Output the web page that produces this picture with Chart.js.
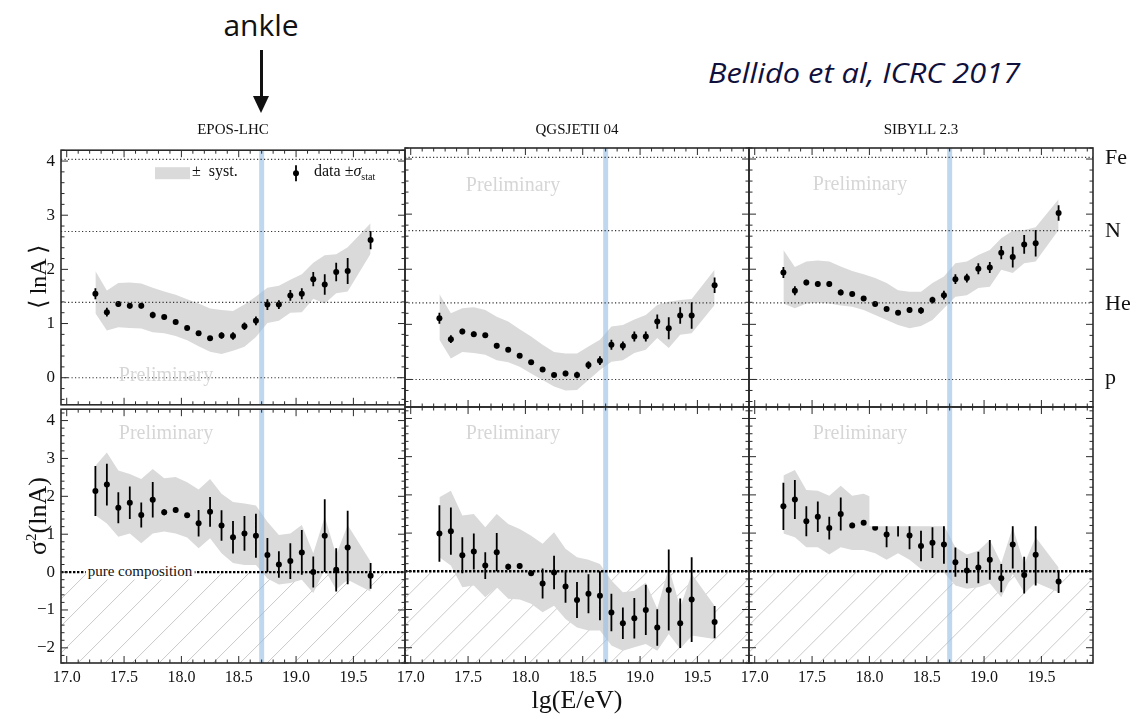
<!DOCTYPE html>
<html>
<head>
<meta charset="utf-8">
<script src="https://cdn.jsdelivr.net/npm/chart.js@4.4.1/dist/chart.umd.min.js"></script>
<style>
    html, body { margin: 0; padding: 0; background: #fff; }
    #stage { position: relative; width: 1137px; height: 719px; overflow: hidden; font-family: "Liberation Serif", serif; color: #111; }
    #stage canvas { position: absolute; }
    .abs { position: absolute; white-space: nowrap; line-height: 1; }
</style>
</head>
<body>
<div id="stage"></div>
<script>
// bin centres of lg(E/eV)
const ENERGY = [17.25, 17.35, 17.45, 17.55, 17.65, 17.75, 17.85, 17.95, 18.05, 18.15, 18.25, 18.35,
    18.45, 18.55, 18.65, 18.75, 18.85, 18.95, 19.05, 19.15, 19.25, 19.35, 19.45, 19.65];
const X_TICKS = [17.0, 17.5, 18.0, 18.5, 19.0, 19.5];
const LNA_TICKS = [0, 1, 2, 3, 4];
const VAR_TICKS = [-2, -1, 0, 1, 2, 3, 4];
const MODELS = ['EPOS-LHC', 'QGSJETII 04', 'SIBYLL 2.3'];
const ELEMENTS = ['p', 'He', 'N', 'Fe'];
const ELEMENT_LNA = [0, 1.39, 2.7, 4.03];
const ANKLE = 18.7;

// <lnA>
const EPOS_LNA = [1.55, 1.21, 1.36, 1.33, 1.33, 1.16, 1.12, 1.03, 0.92, 0.82, 0.73, 0.78, 0.77, 0.95, 1.05, 1.35, 1.35, 1.52, 1.55, 1.82, 1.72, 1.95, 1.97, 2.54];
const EPOS_LNA_STAT = [0.10, 0.08, 0.05, 0.05, 0.05, 0.06, 0.04, 0.03, 0.03, 0.04, 0.04, 0.06, 0.07, 0.07, 0.08, 0.10, 0.08, 0.10, 0.10, 0.13, 0.19, 0.17, 0.24, 0.17];
const EPOS_LNA_SYS_HI = [1.97, 1.61, 1.75, 1.76, 1.74, 1.66, 1.59, 1.53, 1.45, 1.37, 1.28, 1.25, 1.23, 1.35, 1.50, 1.66, 1.70, 1.81, 1.91, 2.12, 2.26, 2.28, 2.41, 2.85];
const EPOS_LNA_SYS_LO = [1.19, 0.87, 0.93, 0.92, 0.91, 0.84, 0.82, 0.77, 0.69, 0.58, 0.48, 0.44, 0.50, 0.57, 0.75, 1.01, 1.05, 1.20, 1.21, 1.46, 1.37, 1.56, 1.59, 2.29];

const QGS_LNA = [1.11, 0.73, 0.87, 0.82, 0.80, 0.61, 0.54, 0.43, 0.31, 0.18, 0.08, 0.11, 0.08, 0.26, 0.34, 0.63, 0.61, 0.78, 0.78, 1.05, 0.93, 1.16, 1.16, 1.71];
const QGS_LNA_STAT = [0.10, 0.07, 0.05, 0.05, 0.04, 0.05, 0.03, 0.03, 0.03, 0.04, 0.04, 0.05, 0.06, 0.07, 0.08, 0.09, 0.08, 0.09, 0.09, 0.13, 0.20, 0.15, 0.24, 0.14];
const QGS_LNA_SYS_HI = [1.55, 1.20, 1.29, 1.31, 1.26, 1.14, 1.05, 0.91, 0.78, 0.63, 0.50, 0.47, 0.47, 0.60, 0.72, 0.96, 0.99, 1.09, 1.17, 1.35, 1.41, 1.44, 1.46, 1.99];
const QGS_LNA_SYS_LO = [0.72, 0.38, 0.50, 0.48, 0.45, 0.35, 0.31, 0.23, 0.11, -0.01, -0.13, -0.20, -0.19, -0.01, 0.17, 0.32, 0.35, 0.48, 0.54, 0.75, 0.57, 0.81, 0.84, 1.35];

const SIB_LNA = [1.94, 1.61, 1.76, 1.73, 1.73, 1.58, 1.55, 1.47, 1.37, 1.28, 1.21, 1.26, 1.25, 1.44, 1.53, 1.82, 1.84, 2.01, 2.03, 2.30, 2.22, 2.45, 2.47, 3.02];
const SIB_LNA_STAT = [0.10, 0.08, 0.05, 0.05, 0.05, 0.05, 0.03, 0.03, 0.03, 0.04, 0.04, 0.05, 0.06, 0.06, 0.08, 0.09, 0.08, 0.10, 0.10, 0.12, 0.19, 0.17, 0.24, 0.14];
const SIB_LNA_SYS_HI = [2.35, 2.04, 2.14, 2.16, 2.14, 2.05, 1.97, 1.91, 1.84, 1.75, 1.62, 1.59, 1.59, 1.75, 1.87, 2.11, 2.14, 2.26, 2.35, 2.56, 2.70, 2.71, 2.76, 3.27];
const SIB_LNA_SYS_LO = [1.38, 1.29, 1.38, 1.39, 1.38, 1.34, 1.32, 1.26, 1.17, 1.08, 0.99, 0.93, 0.97, 1.08, 1.29, 1.50, 1.53, 1.66, 1.68, 1.99, 1.93, 2.11, 2.14, 2.71];

// sigma^2(lnA)
const EPOS_VAR = [2.14, 2.31, 1.70, 1.83, 1.51, 1.91, 1.58, 1.64, 1.50, 1.29, 1.59, 1.23, 0.92, 1.02, 0.96, 0.45, 0.20, 0.29, 0.52, 0.00, 0.96, 0.06, 0.65, -0.10];
const EPOS_VAR_STAT = [0.66, 0.55, 0.41, 0.43, 0.33, 0.47, 0.08, 0.07, 0.04, 0.35, 0.39, 0.40, 0.43, 0.46, 0.58, 0.45, 0.35, 0.47, 0.59, 0.41, 0.96, 0.57, 0.97, 0.34];
const EPOS_VAR_SYS_HI = [2.81, 3.16, 2.68, 2.59, 2.46, 2.72, 2.48, 2.51, 2.37, 2.18, 2.46, 2.07, 1.85, 1.81, 1.76, 1.33, 0.98, 1.02, 1.24, 0.50, 1.46, 0.46, 1.24, 0.28];
const EPOS_VAR_SYS_LO = [1.50, 1.28, 0.93, 1.02, 0.76, 1.02, 1.07, 1.02, 0.91, 0.63, 0.89, 0.50, 0.24, 0.19, 0.19, -0.17, -0.33, -0.29, -0.20, -0.55, 0.06, -0.46, -0.20, -0.51];

const QGS_VAR = [0.99, 1.05, 0.42, 0.52, 0.15, 0.50, 0.12, 0.14, -0.05, -0.32, -0.03, -0.40, -0.75, -0.59, -0.64, -1.08, -1.36, -1.23, -1.01, -1.47, -0.49, -1.36, -0.74, -1.33];
const QGS_VAR_STAT = [0.74, 0.62, 0.47, 0.47, 0.35, 0.50, 0.08, 0.07, 0.04, 0.39, 0.44, 0.42, 0.47, 0.51, 0.64, 0.49, 0.41, 0.53, 0.66, 0.48, 1.06, 0.65, 1.11, 0.42];
const QGS_VAR_SYS_HI = [1.94, 2.11, 1.46, 1.50, 1.15, 1.50, 1.24, 1.11, 0.93, 0.72, 1.02, 0.59, 0.37, 0.30, 0.19, -0.24, -0.55, -0.51, -0.29, -0.98, 0.10, -0.94, -0.07, -0.90];
const QGS_VAR_SYS_LO = [0.37, 0.15, -0.42, -0.37, -0.68, -0.42, -0.72, -0.74, -0.85, -1.07, -0.90, -1.25, -1.47, -1.55, -1.55, -1.94, -2.08, -1.99, -1.90, -2.08, -1.64, -2.03, -1.68, -1.77];

const SIB_VAR = [1.70, 1.88, 1.31, 1.43, 1.13, 1.50, 1.20, 1.27, 1.14, 0.96, 1.35, 0.94, 0.66, 0.75, 0.70, 0.24, 0.02, 0.10, 0.30, -0.18, 0.70, -0.10, 0.43, -0.27];
const SIB_VAR_STAT = [0.62, 0.51, 0.39, 0.40, 0.30, 0.43, 0.07, 0.06, 0.03, 0.33, 0.44, 0.36, 0.40, 0.40, 0.50, 0.38, 0.33, 0.41, 0.52, 0.37, 0.63, 0.48, 0.80, 0.30];
const SIB_VAR_SYS_HI = [2.51, 2.65, 2.13, 2.11, 1.98, 2.24, 1.98, 2.03, 1.90, 1.70, 1.95, 1.65, 1.45, 1.40, 1.20, 0.63, 0.44, 0.54, 0.82, 0.21, 1.15, 0.19, 0.89, 0.10];
const SIB_VAR_SYS_LO = [0.99, 0.89, 0.63, 0.63, 0.44, 0.63, 0.56, 0.56, 0.47, 0.30, 0.47, 0.30, 0.06, -0.03, -0.03, -0.37, -0.46, -0.42, -0.31, -0.68, -0.07, -0.55, -0.29, -0.55];

// blanked-out box in the SIBYLL sigma^2 panel of the original (x0, x1, y0, y1)
const SIB_VAR_BLANK = [18.0, 19.9, 1.18, 3.2];

const stage = document.getElementById('stage');

const COL_X = [61, 405, 749];
const PANEL_W = 344;
const ROW_TOP = [148, 407];
const ROW_H = [259, 256];
const ROW_RANGE = [[-0.5, 4.2], [-2.4, 4.3]];
const PAD = 14;
const Y_AXIS_W = 50;
const X_AXIS_H = 32;
const SERIF = '"Liberation Serif", "Times New Roman", serif';

const addText = (html, x, y, css, align = 'center', rotate = 0) => {
    const el = document.createElement('div');
    el.className = 'abs';
    el.innerHTML = html;
    el.style.cssText += css;
    el.style.left = x + 'px';
    el.style.top = y + 'px';
    const tx = align === 'center' ? '-50%' : align === 'right' ? '-100%' : '0';
    el.style.transform = `translate(${tx}, -50%)` + (rotate ? ` rotate(${rotate}deg)` : '');
    stage.appendChild(el);
    return el;
};

const panelArt = {
    id: 'panelArt',
    beforeDatasetsDraw(chart, args, opts) {
        if (!opts.hatch) return;
        const { ctx, chartArea: a, scales: { y } } = chart;
        const y0 = y.getPixelForValue(0);
        const h = a.bottom - y0;
        ctx.save();
        ctx.beginPath();
        ctx.rect(a.left, y0, a.right - a.left, h);
        ctx.clip();
        ctx.strokeStyle = '#c9c9c9';
        ctx.lineWidth = 1;
        ctx.beginPath();
        for (let k = a.left - h; k < a.right; k += 27) {
            ctx.moveTo(k, a.bottom);
            ctx.lineTo(k + h, y0);
        }
        ctx.stroke();
        ctx.restore();
    },
    afterDatasetsDraw(chart, args, opts) {
        const { ctx, chartArea: a, scales: { x, y } } = chart;
        ctx.save();
        ctx.beginPath();
        ctx.rect(a.left, a.top, a.right - a.left, a.bottom - a.top);
        ctx.clip();

        // statistical error bars
        const pts = chart.data.datasets[2].data;
        ctx.strokeStyle = '#000';
        ctx.lineWidth = 1.8;
        ctx.beginPath();
        pts.forEach((p, i) => {
            const px = x.getPixelForValue(p.x);
            ctx.moveTo(px, y.getPixelForValue(p.y + opts.stat[i]));
            ctx.lineTo(px, y.getPixelForValue(p.y - opts.stat[i]));
        });
        ctx.stroke();

        if (opts.blank) {
            const [x0, x1, y0, y1] = opts.blank;
            ctx.fillStyle = '#fff';
            ctx.fillRect(x.getPixelForValue(x0), y.getPixelForValue(y1),
                x.getPixelForValue(x1) - x.getPixelForValue(x0), y.getPixelForValue(y0) - y.getPixelForValue(y1));
        }

        // ankle
        const ax = x.getPixelForValue(ANKLE);
        ctx.strokeStyle = 'rgba(150, 190, 228, 0.6)';
        ctx.lineWidth = 5;
        ctx.beginPath();
        ctx.moveTo(ax, a.top);
        ctx.lineTo(ax, a.bottom);
        ctx.stroke();

        // reference lines
        if (opts.hatch) {
            ctx.strokeStyle = '#000';
            ctx.lineWidth = 2.4;
            ctx.setLineDash([2.4, 1.6]);
            const y0 = y.getPixelForValue(0);
            ctx.beginPath();
            ctx.moveTo(a.left, y0);
            ctx.lineTo(a.right, y0);
            ctx.stroke();
        } else {
            ctx.strokeStyle = '#333';
            ctx.lineWidth = 1.1;
            ctx.setLineDash([1.2, 2.3]);
            ctx.beginPath();
            ELEMENT_LNA.forEach((v) => {
                const py = y.getPixelForValue(v);
                ctx.moveTo(a.left, py);
                ctx.lineTo(a.right, py);
            });
            ctx.stroke();
        }
        ctx.setLineDash([]);
        ctx.restore();

        // frame with inner ticks
        ctx.save();
        ctx.strokeStyle = '#2a2a2a';
        ctx.lineWidth = 1.6;
        ctx.strokeRect(a.left, a.top, a.right - a.left, a.bottom - a.top);
        ctx.lineWidth = 1;
        ctx.beginPath();
        for (let i = 170; i <= 199; i++) {
            const px = x.getPixelForValue(i / 10);
            const len = i % 5 === 0 ? 7 : 3.5;
            ctx.moveTo(px, a.top); ctx.lineTo(px, a.top + len);
            ctx.moveTo(px, a.bottom); ctx.lineTo(px, a.bottom - len);
        }
        for (let j = Math.ceil(y.min * 5); j <= Math.floor(y.max * 5); j++) {
            const py = y.getPixelForValue(j / 5);
            const len = j % 5 === 0 ? 7 : 3.5;
            ctx.moveTo(a.left, py); ctx.lineTo(a.left + len, py);
            ctx.moveTo(a.right, py); ctx.lineTo(a.right - len, py);
        }
        ctx.stroke();

        if (opts.legend) {
            ctx.fillStyle = '#dadada';
            ctx.fillRect(a.left + 94, a.top + 17, 35, 12);
            const lx = a.left + 235;
            ctx.strokeStyle = '#000';
            ctx.lineWidth = 1.8;
            ctx.beginPath();
            ctx.moveTo(lx, a.top + 15);
            ctx.lineTo(lx, a.top + 31);
            ctx.stroke();
            ctx.fillStyle = '#000';
            ctx.beginPath();
            ctx.arc(lx, a.top + 23, 3, 0, Math.PI * 2);
            ctx.fill();
        }
        ctx.restore();
    }
};

const PANEL_DATA = [
    [[EPOS_LNA, EPOS_LNA_STAT, EPOS_LNA_SYS_LO, EPOS_LNA_SYS_HI], [EPOS_VAR, EPOS_VAR_STAT, EPOS_VAR_SYS_LO, EPOS_VAR_SYS_HI]],
    [[QGS_LNA, QGS_LNA_STAT, QGS_LNA_SYS_LO, QGS_LNA_SYS_HI], [QGS_VAR, QGS_VAR_STAT, QGS_VAR_SYS_LO, QGS_VAR_SYS_HI]],
    [[SIB_LNA, SIB_LNA_STAT, SIB_LNA_SYS_LO, SIB_LNA_SYS_HI], [SIB_VAR, SIB_VAR_STAT, SIB_VAR_SYS_LO, SIB_VAR_SYS_HI]]
];

const tickFont = { family: SERIF, size: 16 };
const minusSign = (v) => (v < 0 ? '\u2212' + Math.abs(v) : String(v));

const makePanel = (col, row) => {
    const [vals, stat, lo, hi] = PANEL_DATA[col][row];
    const yw = col === 0 ? Y_AXIS_W : 0;
    const xh = row === 1 ? X_AXIS_H : 0;
    const canvas = document.createElement('canvas');
    const w = PANEL_W + 2 * PAD + yw;
    const h = ROW_H[row] + 2 * PAD + xh;
    canvas.width = w;
    canvas.height = h;
    canvas.style.width = w + 'px';
    canvas.style.height = h + 'px';
    canvas.style.left = (COL_X[col] - PAD - yw) + 'px';
    canvas.style.top = (ROW_TOP[row] - PAD) + 'px';
    stage.appendChild(canvas);

    const yTicks = row === 0 ? LNA_TICKS : VAR_TICKS;
    return new Chart(canvas, {
        type: 'scatter',
        data: {
            datasets: [
                {
                    type: 'line',
                    data: ENERGY.map((e, i) => ({ x: e, y: lo[i] })),
                    borderWidth: 0,
                    borderColor: 'rgba(0,0,0,0)',
                    pointRadius: 0,
                    fill: false,
                    order: 2
                },
                {
                    type: 'line',
                    data: ENERGY.map((e, i) => ({ x: e, y: hi[i] })),
                    borderWidth: 0,
                    borderColor: 'rgba(0,0,0,0)',
                    backgroundColor: '#dadada',
                    pointRadius: 0,
                    fill: '-1',
                    order: 2
                },
                {
                    data: ENERGY.map((e, i) => ({ x: e, y: vals[i] })),
                    pointRadius: 3,
                    pointBackgroundColor: '#000',
                    pointBorderWidth: 0,
                    order: 1
                }
            ]
        },
        options: {
            responsive: false,
            animation: false,
            events: [],
            layout: { padding: PAD },
            plugins: {
                legend: { display: false },
                tooltip: { enabled: false },
                panelArt: {
                    stat,
                    hatch: row === 1,
                    legend: row === 0 && col === 0,
                    blank: row === 1 && col === 2 ? SIB_VAR_BLANK : null
                }
            },
            scales: {
                x: {
                    type: 'linear',
                    min: 16.95,
                    max: 19.95,
                    display: xh > 0,
                    afterFit: (s) => { s.height = xh; },
                    afterBuildTicks: (s) => { s.ticks = X_TICKS.map((value) => ({ value })); },
                    grid: { display: false, drawTicks: false },
                    border: { display: false },
                    ticks: { font: tickFont, color: '#111', padding: 5, maxRotation: 0, callback: (v) => Number(v).toFixed(1) }
                },
                y: {
                    type: 'linear',
                    min: ROW_RANGE[row][0],
                    max: ROW_RANGE[row][1],
                    display: yw > 0,
                    afterFit: (s) => { s.width = yw; },
                    afterBuildTicks: (s) => { s.ticks = yTicks.map((value) => ({ value })); },
                    grid: { display: false, drawTicks: false },
                    border: { display: false },
                    ticks: { font: { family: SERIF, size: 17 }, color: '#111', padding: 6, callback: minusSign }
                }
            }
        },
        plugins: [panelArt]
    });
};

[0, 1].forEach((row) => [0, 1, 2].forEach((col) => makePanel(col, row)));

// titles and axis labels
MODELS.forEach((m, c) => addText(m, COL_X[c] + PANEL_W / 2, 129, `font: 15px ${SERIF};`));
addText('\u27e8 lnA \u27e9', 38, 277, `font: 24px ${SERIF};`, 'center', -90);
addText('\u03c3<sup style="font-size:15px;vertical-align:10px">2</sup>(lnA)', 38, 516, `font: 26px ${SERIF};`, 'center', -90);
addText('lg(E/eV)', 577, 700, `font: 26px ${SERIF};`);
const ELEMENT_Y = [377, 303, 230, 157];
ELEMENTS.forEach((el, i) => addText(el, 1105, ELEMENT_Y[i], `font: 22px ${SERIF};`, 'left'));

// "Preliminary" watermarks
const PRELIM_STYLE = `font: 20px ${SERIF}; color: #d6d6d6;`;
addText('Preliminary', COL_X[0] + 105, 374, PRELIM_STYLE);
addText('Preliminary', COL_X[1] + 108, 184, PRELIM_STYLE);
addText('Preliminary', COL_X[2] + 111, 183, PRELIM_STYLE);
[0, 1, 2].forEach((c) => addText('Preliminary', COL_X[c] + 105 + 3 * c, 432, PRELIM_STYLE));

addText('pure composition', 140, 571, `font: 15px ${SERIF}; background: #fff; padding: 0 2px;`);

// legend text
addText('\u00b1&nbsp; syst.', 192, 171, `font: 16px ${SERIF};`, 'left');
addText('data \u00b1<i>\u03c3</i><sub style="font-size:10px">stat</sub>', 314, 172, `font: 16px ${SERIF};`, 'left');

// annotations
addText('ankle', 261, 24, 'font: 30px "Open Sans", sans-serif; color: #111;');
const shaft = document.createElement('div');
shaft.style.cssText = 'position:absolute;left:260px;top:50px;width:3px;height:50px;background:#111;';
stage.appendChild(shaft);
const head = document.createElement('div');
head.style.cssText = 'position:absolute;left:253px;top:96px;width:0;height:0;border-left:8.5px solid transparent;border-right:8.5px solid transparent;border-top:17px solid #111;';
stage.appendChild(head);
const cite = addText('Bellido et al, ICRC 2017', 708, 72, 'font: italic 28px "Open Sans", sans-serif; color: #10103c; transform-origin: left center;', 'left');
const citeW = cite.getBoundingClientRect().width;
cite.style.transform = `translate(0, -50%) scaleX(${(312 / citeW).toFixed(3)})`;
</script>
</body>
</html>
